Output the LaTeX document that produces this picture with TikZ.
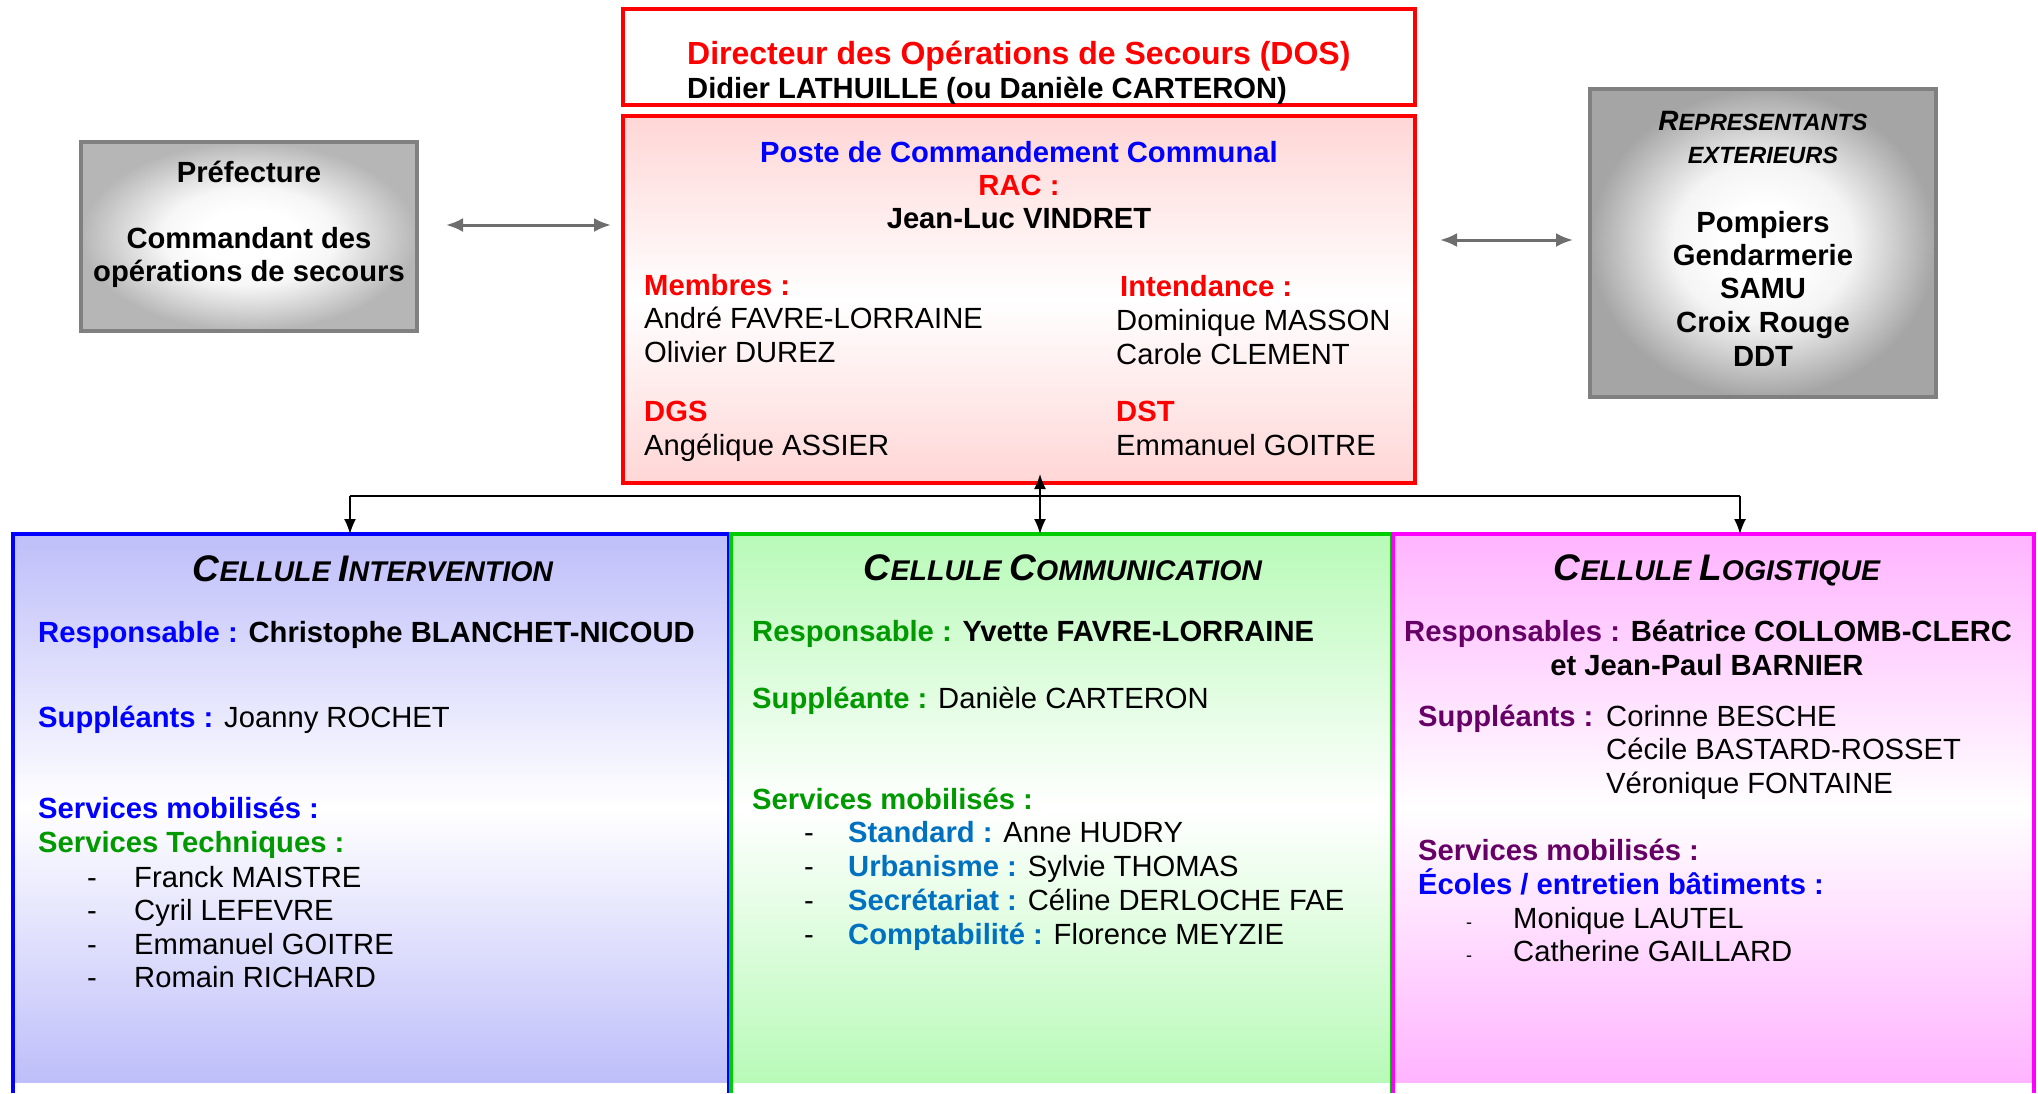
\documentclass[tikz,border=0pt]{standalone}
\usepackage{fontspec}
\setmainfont{Liberation Sans}
\usetikzlibrary{arrows.meta}
\definecolor{rougeT}{RGB}{255,0,0}
\definecolor{bleuT}{RGB}{0,0,255}
\definecolor{vertT}{RGB}{0,153,0}
\definecolor{vertB}{RGB}{0,204,0}
\definecolor{violetT}{RGB}{102,0,102}
\definecolor{bleuM}{RGB}{0,112,192}
\definecolor{magB}{RGB}{255,0,255}
\definecolor{bleuF}{RGB}{190,190,250}
\definecolor{vertF}{RGB}{184,250,184}
\definecolor{magF}{RGB}{255,180,255}
\definecolor{roseF}{RGB}{255,214,214}
\definecolor{grisA}{RGB}{182,182,182}
\definecolor{grisB}{RGB}{165,165,165}
\definecolor{grisBord}{RGB}{128,128,128}
\definecolor{grisFl}{RGB}{110,110,110}
\colorlet{grisA1}{grisA!12!white}
\colorlet{grisA2}{grisA!55!white}
\colorlet{grisB1}{grisB!12!white}
\colorlet{grisB2}{grisB!55!white}
\pgfdeclareradialshading{prefrad}{\pgfpoint{0bp}{0bp}}{color(0bp)=(white); color(7bp)=(white); color(13bp)=(grisA1); color(19bp)=(grisA2); color(25bp)=(grisA); color(50bp)=(grisA)}
\pgfdeclareradialshading{reprrad}{\pgfpoint{0bp}{0bp}}{color(0bp)=(white); color(6bp)=(white); color(13bp)=(grisB1); color(19bp)=(grisB2); color(25bp)=(grisB); color(50bp)=(grisB)}
\newcommand\fs{\fontsize{29.2pt}{33.5pt}\selectfont}
\newcommand\SCt[2]{{\fontsize{37pt}{40pt}\selectfont #1}{\fontsize{28.5pt}{30pt}\selectfont #2}}
\tikzset{
  tw/.style={anchor=base west, inner sep=0pt, font=\fs},
  tb/.style={anchor=base west, inner sep=0pt, font=\fs\bfseries},
  tcb/.style={anchor=base, inner sep=0pt, font=\fs\bfseries},
  boxn/.style={rectangle, inner sep=0pt, outer sep=0pt},
  redbox/.style={boxn, draw=rougeT, line width=3.5pt},
  graybox/.style={boxn, draw=grisBord, line width=3.5pt},
  conn/.style={draw=black, line width=1.6pt},
  carrow/.style={conn, -{Latex[length=15pt,width=12pt]}},
  cdarrow/.style={conn, {Latex[length=15pt,width=12pt]}-{Latex[length=15pt,width=12pt]}},
  garrow/.style={draw=grisFl, line width=3pt, {Latex[length=17pt,width=14pt]}-{Latex[length=17pt,width=14pt]}},
  cellb/.style={line width=4pt},
}
\begin{document}
\begin{tikzpicture}[x=1pt,y=-1pt]
\useasboundingbox (0,0) rectangle (2038,1093);

% ---------- backgrounds ----------
\shade[shading=prefrad] (81,142) rectangle (417,331);
\shade[shading=reprrad] (1590,89) rectangle (1936,397);
\shade[top color=roseF, bottom color=roseF, middle color=white] (623,116) rectangle (1415,483);
\shade[top color=bleuF, bottom color=bleuF, middle color=white] (13,534) rectangle (729,1082);
\shade[top color=vertF, bottom color=vertF, middle color=white] (731,534) rectangle (1392,1082);
\shade[top color=magF, bottom color=magF, middle color=white] (1393,534) rectangle (2034,1082);

% ---------- boxes ----------
\node[redbox, minimum width=792pt, minimum height=96pt] (dos) at (1019,57) {};
\node[redbox, minimum width=792pt, minimum height=367pt] (pcc) at (1019,299.5) {};
\node[graybox, minimum width=336pt, minimum height=189pt] (pref) at (249,236.5) {};
\node[graybox, minimum width=346pt, minimum height=308pt] (repr) at (1763,243) {};
\node[boxn, minimum width=716pt, minimum height=559pt] (cint) at (371,813.5) {};
\node[boxn, minimum width=661pt, minimum height=559pt] (ccom) at (1061.5,813.5) {};
\node[boxn, minimum width=641pt, minimum height=559pt] (clog) at (1713.5,813.5) {};
\draw[cellb, bleuT] (cint.south west) -- (cint.north west) -- (cint.north east) -- (cint.south east);
\draw[cellb, vertB] (ccom.south west) -- (ccom.north west) -- (ccom.north east) -- (ccom.south east);
\draw[cellb, magB] (clog.south west) -- (clog.north west) -- (clog.north east) -- (clog.south east);

% ---------- DOS ----------
\node[tb, font=\fontsize{32pt}{36pt}\selectfont\bfseries, text=rougeT] (dos1) at (687,64) {Directeur des Opérations de Secours (DOS)};
\node[tb] (dos2) at (687,98) {Didier LATHUILLE (ou Danièle CARTERON)};

% ---------- PCC ----------
\node[tcb, text=bleuT] (pcc1) at (1019,162) {Poste de Commandement Communal};
\node[tcb, text=rougeT] (pcc2) at (1019,195) {RAC :};
\node[tcb] (pcc3) at (1019,228) {Jean-Luc VINDRET};
\node[tb, text=rougeT] (mem) at (644,295) {Membres :};
\node[tw] (mem1) at (644,328) {André FAVRE-LORRAINE};
\node[tw] (mem2) at (644,362) {Olivier DUREZ};
\node[tb, text=rougeT] (dgs) at (644,421) {DGS};
\node[tw] (dgs1) at (644,455) {Angélique ASSIER};
\node[tb, text=rougeT] (int) at (1120,296) {Intendance :};
\node[tw] (int1) at (1116,330) {Dominique MASSON};
\node[tw] (int2) at (1116,364) {Carole CLEMENT};
\node[tb, text=rougeT] (dst) at (1116,421) {DST};
\node[tw] (dst1) at (1116,455) {Emmanuel GOITRE};

% ---------- Préfecture ----------
\node[tcb] (pr1) at (249,182) {Préfecture};
\node[tcb] (pr2) at (249,248) {Commandant des};
\node[tcb] (pr3) at (249,281) {opérations de secours};

% ---------- Représentants ----------
\node[tcb, font=\bfseries\itshape] (re1) at (1763,130) {{\fontsize{28pt}{30pt}\selectfont R}{\fontsize{23.5pt}{26pt}\selectfont EPRESENTANTS}};
\node[tcb, font=\fontsize{23.5pt}{26pt}\selectfont\bfseries\itshape] (re2) at (1763,163) {EXTERIEURS};
\node[tcb] (re3) at (1763,232) {Pompiers};
\node[tcb] (re4) at (1763,265) {Gendarmerie};
\node[tcb] (re5) at (1763,298) {SAMU};
\node[tcb] (re6) at (1763,332) {Croix Rouge};
\node[tcb] (re7) at (1763,366) {DDT};

% ---------- Cellule Intervention ----------
\node[tcb, font=\bfseries\itshape] (ci0) at (373,581) {\SCt{C}{ELLULE }\SCt{I}{NTERVENTION}};
\node[tb] (ci1) at (38,642) {{\color{bleuT}Responsable :} Christophe BLANCHET-NICOUD};
\node[tw] (ci2) at (38,727) {{\bfseries\color{bleuT}Suppléants :} Joanny ROCHET};
\node[tb, text=bleuT] (ci3) at (38,818) {Services mobilisés :};
\node[tb, text=vertT] (ci4) at (38,852) {Services Techniques :};
\foreach \y/\n [count=\i] in {887/Franck MAISTRE,920/Cyril LEFEVRE,954/Emmanuel GOITRE,987/Romain RICHARD}{
  \node[tw] (cid\i) at (87,\y) {-};
  \node[tw] (cin\i) at (134,\y) {\n};
}

% ---------- Cellule Communication ----------
\node[tcb, font=\bfseries\itshape] (cc0) at (1063,580) {\SCt{C}{ELLULE }\SCt{C}{OMMUNICATION}};
\node[tb] (cc1) at (752,641) {{\color{vertT}Responsable :} Yvette FAVRE-LORRAINE};
\node[tw] (cc2) at (752,708) {{\bfseries\color{vertT}Suppléante :} Danièle CARTERON};
\node[tb, text=vertT] (cc3) at (752,809) {Services mobilisés :};
\foreach \y/\l/\n [count=\i] in {842/Standard :/Anne HUDRY,876/Urbanisme :/Sylvie THOMAS,910/Secrétariat :/Céline DERLOCHE FAE,944/Comptabilité :/Florence MEYZIE}{
  \node[tw] (ccd\i) at (804,\y) {-};
  \node[tw] (ccn\i) at (848,\y) {{\bfseries\color{bleuM}\l} \n};
}

% ---------- Cellule Logistique ----------
\node[tcb, font=\bfseries\itshape] (cl0) at (1717,580) {\SCt{C}{ELLULE }\SCt{L}{OGISTIQUE}};
\node[tb] (cl1) at (1404,641) {{\color{violetT}Responsables :} Béatrice COLLOMB-CLERC};
\node[tcb] (cl2) at (1707,675) {et Jean-Paul BARNIER};
\node[tb, text=violetT] (cl3) at (1418,726) {Suppléants :};
\node[tw] (cl4) at (1606,726) {Corinne BESCHE};
\node[tw] (cl5) at (1606,759) {Cécile BASTARD-ROSSET};
\node[tw] (cl6) at (1606,793) {Véronique FONTAINE};
\node[tb, text=violetT] (cl7) at (1418,860) {Services mobilisés :};
\node[tb, text=bleuT] (cl8) at (1418,894) {Écoles / entretien bâtiments :};
\foreach \y/\n [count=\i] in {928/Monique LAUTEL,961/Catherine GAILLARD}{
  \node[tw, font=\fontsize{18pt}{20pt}\selectfont] (cld\i) at (1466,\y) {-};
  \node[tw] (cln\i) at (1513,\y) {\n};
}

% ---------- connectors ----------
\coordinate (gl1) at (446,225);
\coordinate (gl2) at (611,225);
\coordinate (gr1) at (1440,240);
\coordinate (gr2) at (1573,240);
\draw[garrow] (gl1) -- (gl2);
\draw[garrow] (gr1) -- (gr2);
\coordinate (jL) at (350,496);
\coordinate (jR) at (1740,496);
\coordinate (jM) at (1040,474);
\draw[conn] (jL) -- (jR);
\draw[carrow] (jL) -- (jL |- cint.north);
\draw[carrow] (jR) -- (jR |- clog.north);
\draw[cdarrow] (jM) -- (jM |- ccom.north);
\end{tikzpicture}
\end{document}
